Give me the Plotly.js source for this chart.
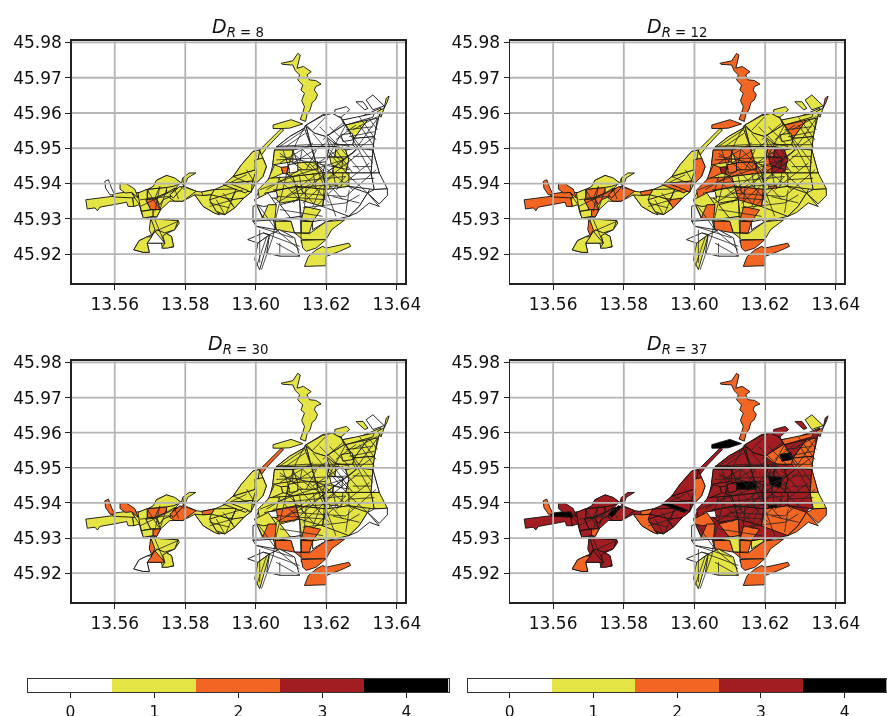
<!DOCTYPE html>
<html><head><meta charset="utf-8">
<script src="https://cdn.plot.ly/plotly-3.0.1.min.js"></script>
<style>html,body{margin:0;padding:0;background:#fff;overflow:hidden}#chart{width:887px;height:716px;filter:blur(0.4px)}</style>
</head><body><div id="chart"></div>
<script>
// Zones. Each row: class in panels R=8, R=12, R=30, R=37, then x,y pairs
// in units of 1e-4 degrees from the origin below. Later rows lie over earlier ones.
const ORIGIN_LON = 13.54, ORIGIN_LAT = 45.91, UNIT = 1e-4;
const westZones = [
[1,1,1,3, 248,273,272,275,295,284,314,292,318,309,347,323,370,314,387,303,370,284,370,250,356,250,330,226,319,205,281,205,276,216,270,240,254,235],
[1,1,1,3, 370,284,398,292,431,278,446,276,483,283,516,297,545,285,587,276,566,259,540,231,512,212,483,216,451,235,427,268,393,250,370,250],
[1,1,1,3, 302,202,347,197,380,195,383,188,370,169,347,158,361,150,367,120,336,117,332,131,292,131,298,105,281,105,254,112,269,138,292,149,310,157,302,178],
[1,2,1,3, 118,254,196,264,248,273,254,235,238,235,234,247,158,233,151,223,144,231,122,228],
[1,2,1,4, 191,270,248,278,257,259,196,262],
[0,2,2,2, 172,306,182,311,191,287,200,268,187,268,174,287],
[1,2,2,3, 215,301,234,299,257,284,266,259,248,275,230,273,215,284],
[1,2,2,3, 295,284,347,289,347,273,314,259,292,259],
[2,2,1,3, 288,254,318,257,330,226,302,226],
[1,1,1,3, 266,273,292,284,292,259,288,254,302,226,276,221,271,240],
[1,2,1,3, 314,259,347,273,370,287,361,264,337,254,328,240,318,257],
[1,1,1,3, 309,292,318,309,347,323,370,316,389,301,366,292,347,289,295,284],
[1,2,2,3, 370,284,393,292,431,278,407,259,393,250,370,250,356,259],
[1,2,2,4, 356,268,385,292,392,288,366,259],
[1,1,1,3, 393,316,411,330,430,330,407,316,398,292,389,301],
[1,1,1,3, 276,221,309,226,309,207,281,202],
[1,2,2,2, 309,226,330,226,319,205,309,207],
[1,1,1,3, 302,200,380,195,370,169,342,160,319,169,309,155,302,178],
[0,1,2,3, 314,164,292,131,342,131],
[1,2,2,3, 302,202,314,169,305,153,298,169],
[1,1,0,2, 254,112,269,138,292,149,305,149,292,131,298,105,281,105],
[1,1,1,3, 347,158,361,150,367,122,351,117,333,117,342,131,336,152]
];
const riverZones = [
[1,1,1,3, 516,297,536,320,559,353,592,391,611,395,620,372,630,348,620,320,597,297,587,276,545,285],
[1,2,2,2, 446,276,483,283,474,268,451,266],
[1,1,1,2, 427,268,451,266,474,268,469,254,488,221,497,211,483,216,451,235],
[1,1,1,3, 483,283,545,285,531,254,498,263,474,268],
[1,1,1,3, 469,254,498,263,521,256,540,231,512,212,488,221],
[1,2,1,3, 521,256,566,259,540,231],
[1,1,1,3, 512,300,536,320,569,330,602,340,591,307],
[1,1,1,3, 545,285,587,276,566,259,531,254],
[1,2,1,3, 512,300,591,307,587,276,545,285],
[1,2,1,4, 507,297,526,300,578,280,571,273],
[1,1,1,3, 536,320,559,353,592,391,611,395,602,340,569,330],
[1,2,1,2, 597,367,620,372,630,348,620,320,597,297,602,330],
[1,1,2,3, 611,395,658,442,672,456,679,452,634,405,616,381],
[1,2,1,4, 649,466,700,481,733,469,696,457,672,456,649,456],
[1,2,1,2, 672,641,705,648,719,669,726,664,717,627,735,632,757,617,745,608,752,594,770,592,785,582,770,575,766,565,775,552,769,537,760,530,754,509,745,495,741,476,726,482,733,500,738,518,730,535,738,556,728,565,733,579,719,594,724,608,712,620,705,636,675,638]
];
const northEastZones = [
[0,1,1,3, 658,403,696,433,738,457,743,466,790,495,817,499,842,488,846,480,894,488,955,514,945,472,936,433,932,395,653,395],
[0,1,1,3, 884,532,904,532,918,513,909,509],
[0,1,0,1, 913,537,932,551,964,520,932,509],
[1,2,1,3, 964,514,970,542,978,548,973,532],
[1,1,1,2, 945,504,964,514,955,488],
[0,1,1,3, 824,509,857,518,866,509,842,488,824,492],
[0,1,1,3, 743,466,789,492,817,499,842,485,851,466,799,433,766,443],
[0,1,1,2, 846,480,936,499,932,488,855,466],
[1,2,1,3, 855,466,917,480,879,428],
[0,1,1,2, 917,480,945,485,936,433,879,428],
[0,1,1,2, 799,433,851,466,855,466,879,428,875,410,828,410],
[0,1,1,4, 842,438,873,443,877,424,847,419],
[0,1,1,2, 879,428,936,433,932,395,884,400,875,410],
[0,1,1,3, 743,461,766,443,799,433,809,405,757,405],
[0,1,1,3, 658,403,696,433,738,457,757,405]
];
const centreZones = [
[0,1,1,3, 648,353,653,395,932,395,950,330,917,273,893,235,864,207,799,192,658,193,621,202,602,240,597,254,611,282,639,315],
[1,2,1,3, 653,395,705,395,705,362,648,353],
[0,2,1,3, 705,395,757,405,771,358,719,358],
[0,1,1,3, 757,405,809,405,799,362,771,358],
[1,2,1,3, 635,311,653,353,672,346,677,329],
[1,2,1,3, 688,327,719,358,771,358,790,330,705,320],
[1,2,1,4, 705,358,775,362,775,339,710,339],
[0,2,1,3, 691,353,719,358,719,334,696,329],
[2,3,1,3, 672,346,691,348,688,327,677,329],
[0,2,1,3, 799,362,809,405,828,405,818,330,790,330],
[1,3,0,3, 828,405,855,395,864,367,855,330,818,330],
[1,3,0,4, 809,377,848,372,843,343,814,353],
[0,1,1,3, 855,395,884,400,932,395,927,330,855,330,864,367],
[0,1,1,3, 855,330,927,330,936,283,864,292],
[0,1,0,2, 932,395,950,330,927,330],
[0,1,1,1, 927,330,950,330,973,285,936,283],
[0,1,0,2, 936,283,973,285,973,266,950,242,917,273],
[1,2,1,3, 606,282,639,315,705,320,714,292,649,278,611,254],
[1,1,1,3, 705,320,790,330,799,283,714,292],
[1,1,1,3, 790,330,864,330,864,292,799,283],
[0,2,0,4, 809,292,833,294,830,273,814,273],
[1,2,1,4, 710,287,738,290,733,271,714,273],
[1,1,2,3, 649,278,714,292,724,254,670,245,635,273],
[0,0,0,0, 625,273,658,278,663,259,635,259],
[1,2,1,3, 714,292,799,283,789,235,724,254],
[0,1,1,2, 799,283,864,292,917,273,893,235,864,207,789,235],
[0,1,0,2, 917,273,950,235,922,245,889,218,864,207,893,235]
];
const southZones = [
[0,1,1,2, 597,254,635,273,658,240,621,235,602,240],
[1,2,2,2, 619,202,635,240,658,240,654,198],
[0,1,0,2, 669,240,724,254,729,207,699,202],
[1,2,2,2, 739,235,784,225,761,192,729,197],
[1,2,2,2, 654,193,700,193,710,160,658,169],
[0,1,0,1, 658,198,729,207,729,160,710,160,700,193],
[1,2,2,2, 729,193,761,192,752,160,729,160],
[1,1,2,2, 710,160,752,158,799,192,852,197,815,169,799,141,733,141],
[0,0,0,1, 761,192,790,197,799,192,761,169],
[1,2,2,2, 729,139,799,141,771,117,743,108,733,117],
[1,2,2,2, 738,65,749,93,771,112,790,122,799,117,864,131,869,122,838,108,799,93,799,67],
[0,0,0,0, 592,193,649,197,658,169,601,179],
[0,0,0,0, 592,235,602,240,619,202,592,193],
[0,0,0,0, 577,141,621,160,639,155,606,131],
[0,1,1,1, 606,131,639,155,626,108,611,56,597,84],
[0,0,0,1, 639,155,668,169,710,146,724,94,668,94,631,103]
];
// Street centre-lines, same units as the zones.
const mainStreets = [
[741,466,762,386,781,320,799,283,827,207],[741,466,714,414,696,362,677,282,658,207,649,150,616,56],
[658,405,743,410,932,410],[611,282,705,320,847,367,936,433],[658,245,762,302,875,386,955,499],
[705,245,799,330,884,395],[762,442,865,320,917,273],[799,433,875,330],[846,480,927,330],[894,488,941,424],
[855,466,799,362,790,235],[658,367,762,372,865,377],[649,282,865,302],[705,273,855,263],[668,226,790,207],
[724,254,729,131],[601,179,705,146],[621,160,724,122],[606,240,658,169,724,112]
];
const risingStreets = [
[630,282,724,339],[686,263,790,339],[733,244,827,330],[762,226,855,320],[668,358,762,415],[705,358,799,415],
[762,349,847,405],[799,311,894,386],[827,282,922,358],[855,263,941,339],[668,405,738,452],[686,405,741,443],
[762,451,799,490],[790,424,846,471],[827,424,884,466],[875,452,945,490]
];
const fallingStreets = [
[658,320,724,254],[686,330,762,245],[724,339,808,245],[752,358,847,254],[781,358,875,282],[668,386,733,339],
[733,396,790,339],[809,396,865,339],[827,415,894,339],[875,433,932,358],[894,466,936,405],[920,485,945,452],
[781,461,827,415],[809,461,865,405]
];
const sideStreets = [
[677,395,696,339],[705,386,762,339],[733,405,724,358],[772,396,743,339],[818,415,865,405],[875,377,932,377],
[875,348,927,348],[865,311,936,315],[668,320,658,282],[724,320,733,273],[762,330,772,283],[818,339,827,292],
[847,330,842,292],[743,292,738,235],[781,283,762,235],[818,263,894,245],[865,282,855,217],[894,268,855,245],
[855,452,932,461],[865,433,936,447],[668,377,865,339],[668,301,855,320],[658,264,799,254],[733,231,855,245]
];
const westStreets = [
[272,235,370,282],[292,282,328,226],[314,259,328,292],[498,263,564,282],[469,235,535,254],[545,285,516,216],
[393,316,397,282],[248,273,270,240],[272,254,356,264],[328,292,314,221],[347,284,328,226],[370,284,381,256],
[314,197,342,131],[314,164,380,193],[536,320,601,293],[516,297,574,325],[574,339,597,302],[601,386,597,339],
[488,254,512,212],[469,245,526,231],[507,273,535,240],[611,169,611,75],[631,150,602,65],[658,131,724,94],[668,131,668,94]
];
const levelColors = ['#ffffff','#e4e445','#f26522','#a11d21','#000000'];
const lonTicks = [13.56,13.58,13.60,13.62,13.64];
const latTicks = [45.92,45.93,45.94,45.95,45.96,45.97,45.98];
const lonTickText = ['13.56','13.58','13.60','13.62','13.64'];
const latTickText = ['45.92','45.93','45.94','45.95','45.96','45.97','45.98'];
const classTicks = [0,1,2,3,4];
const panelNames = ['8','12','30','37'];

const zones = [...westZones,...riverZones,...northEastZones,...centreZones,...southZones];
const streets = [...mainStreets,...risingStreets,...fallingStreets,...sideStreets,...westStreets];
const boxes = [[71.7,405,40.7,283],[510,844,40.7,283],[71.7,405,360.7,602],[510,844,360.7,602]];
const titlePos = [[238,27],[677,27],[238,344],[677,344]];
const W=887,H=716,FONT='"DejaVu Sans", sans-serif';
const lonRange=[13.5478,13.6423], latRange=[45.9118,45.9805];
const lonOf=u=>ORIGIN_LON+u*UNIT, latOf=u=>ORIGIN_LAT+u*UNIT;
const traces=[],shapes=[],annotations=[],layout={
 width:W,height:H,margin:{l:0,r:0,t:0,b:0},paper_bgcolor:'#fff',plot_bgcolor:'#fff',showlegend:false,hovermode:false
};
panelNames.forEach((name,i)=>{
 const n=i+1,xa='x'+(n>1?n:''),ya='y'+(n>1?n:''),box=boxes[i];
 const tf={family:FONT,size:17,color:'#111'};
 layout['xaxis'+(n>1?n:'')]={domain:[box[0]/W,box[1]/W],range:lonRange,anchor:ya,tickmode:'array',tickvals:lonTicks,ticktext:lonTickText,
  showgrid:false,zeroline:false,showline:true,mirror:true,linecolor:'#222',linewidth:1.5,ticks:'outside',ticklen:5,tickcolor:'#222',tickfont:tf};
 layout['yaxis'+(n>1?n:'')]={domain:[1-box[3]/H,1-box[2]/H],range:latRange,anchor:xa,tickmode:'array',tickvals:latTicks,ticktext:latTickText,
  showgrid:false,zeroline:false,showline:true,mirror:true,linecolor:'#222',linewidth:1.5,ticks:'outside',ticklen:5,tickcolor:'#222',tickfont:tf};
 zones.forEach(z=>{
  const xs=[],ys=[];
  for(let j=4;j<z.length;j+=2){xs.push(lonOf(z[j]));ys.push(latOf(z[j+1]));}
  xs.push(xs[0]);ys.push(ys[0]);
  traces.push({type:'scatter',mode:'lines',x:xs,y:ys,xaxis:xa,yaxis:ya,fill:'toself',fillcolor:levelColors[z[i]],line:{color:'#111',width:0.9},hoverinfo:'skip'});
 });
 const sx=[],sy=[];
 streets.forEach(s=>{for(let j=0;j<s.length;j+=2){sx.push(lonOf(s[j]));sy.push(latOf(s[j+1]));}sx.push(null);sy.push(null);});
 traces.push({type:'scatter',mode:'lines',x:sx,y:sy,xaxis:xa,yaxis:ya,line:{color:'#222',width:0.8},hoverinfo:'skip'});
 const grid={color:'#b4b4b4',width:1.8};
 lonTicks.forEach(v=>shapes.push({type:'line',xref:xa,yref:ya,x0:v,x1:v,y0:latRange[0],y1:latRange[1],line:grid,layer:'above'}));
 latTicks.forEach(v=>shapes.push({type:'line',xref:xa,yref:ya,x0:lonRange[0],x1:lonRange[1],y0:v,y1:v,line:grid,layer:'above'}));
 annotations.push({xref:'paper',yref:'paper',x:titlePos[i][0]/W,y:1-titlePos[i][1]/H,xanchor:'center',yanchor:'middle',showarrow:false,
  text:'<i>D</i><sub><i>R</i> = '+name+'</sub>',font:{family:FONT,size:19,color:'#111'}});
});
const cs=[];levelColors.forEach((c,i)=>{cs.push([i/5,c]);cs.push([(i+1)/5,c]);});
[[28.3,448.5],[467.8,886.5]].forEach((b,i)=>{
 const n=5+i;
 layout['xaxis'+n]={domain:[b[0]/W,b[1]/W],range:[-0.5,4.5],anchor:'y'+n,tickmode:'array',tickvals:classTicks,ticktext:classTicks.map(String),
  showgrid:false,zeroline:false,showline:true,mirror:true,linecolor:'#333',linewidth:1.2,ticks:'outside',ticklen:5,tickcolor:'#222',tickfont:{family:FONT,size:15.5,color:'#111'}};
 layout['yaxis'+n]={domain:[1-692/H,1-679/H],range:[0,1],anchor:'x'+n,showticklabels:false,ticks:'',showgrid:false,zeroline:false,showline:true,mirror:true,linecolor:'#333',linewidth:1.2};
 traces.push({type:'heatmap',x:classTicks,y:[0.5],z:[classTicks],zmin:-0.5,zmax:4.5,colorscale:cs,showscale:false,xaxis:'x'+n,yaxis:'y'+n,hoverinfo:'skip'});
});
layout.shapes=shapes;layout.annotations=annotations;
Plotly.newPlot('chart',traces,layout,{displayModeBar:false,staticPlot:true});
</script></body></html>
